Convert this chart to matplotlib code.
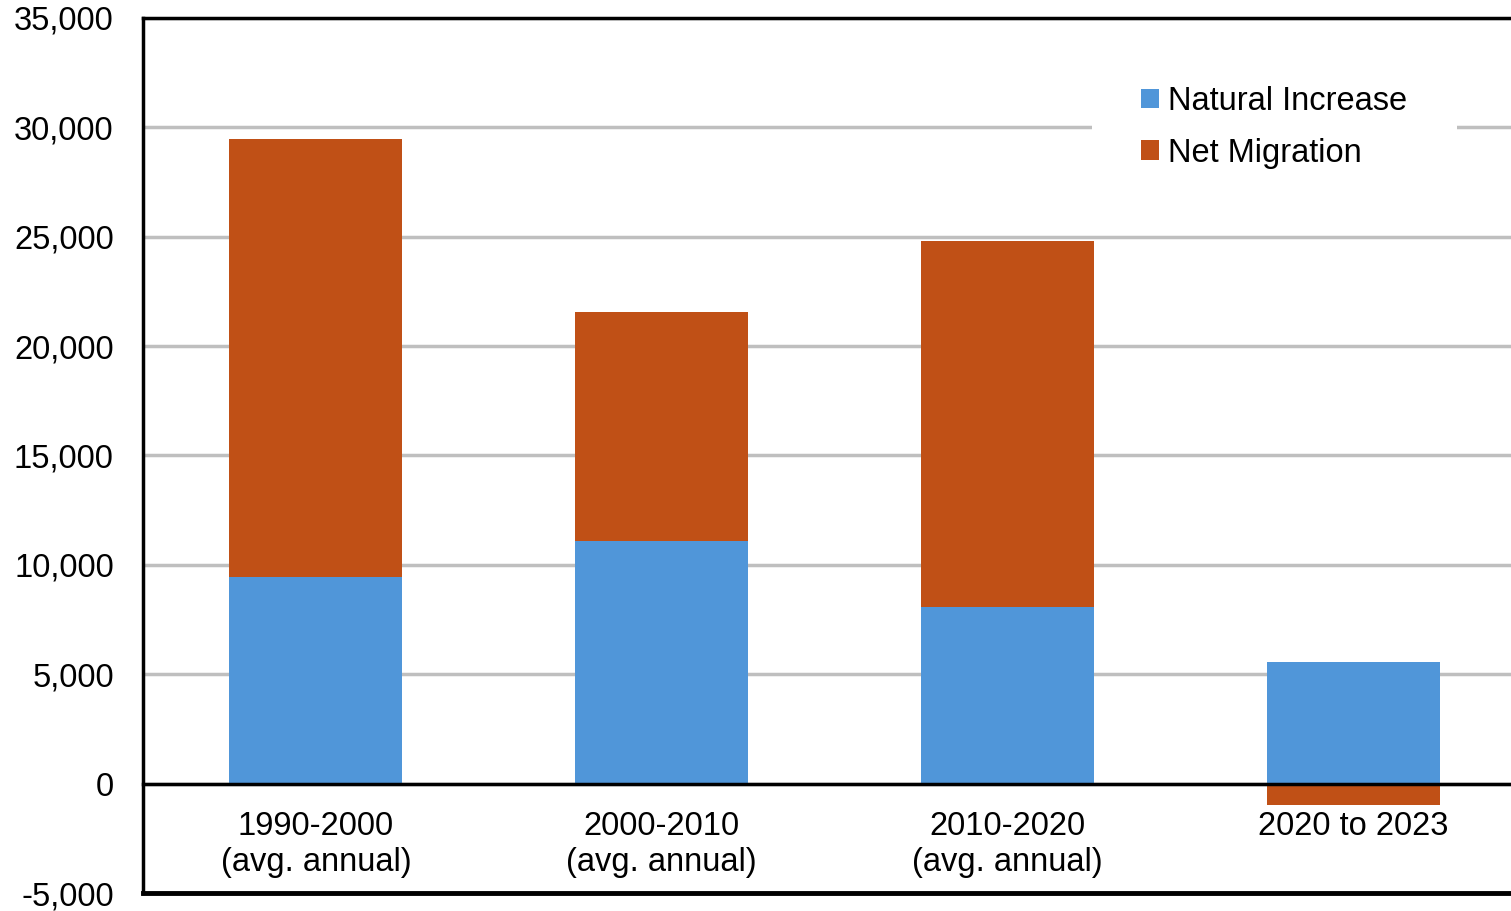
import numpy as np
import matplotlib.pyplot as plt
from matplotlib.ticker import FuncFormatter

plt.rcParams['font.family'] = ['Liberation Sans', 'DejaVu Sans']

# data
periods = ['1990-2000\n(avg. annual)', '2000-2010\n(avg. annual)',
           '2010-2020\n(avg. annual)', '2020 to 2023']
natural_increase = [9450, 11100, 8070, 5560]
net_migration = [20010, 10460, 16730, -980]

blue = '#5096D9'
orange = '#C05016'

fig = plt.figure(figsize=(15.11, 9.11), dpi=100)
ax = fig.add_axes([143 / 1511, 18 / 911, 1383 / 1511, 875 / 911])

x = np.arange(len(periods))
ax.bar(x, natural_increase, width=0.5, color=blue, label='Natural Increase', zorder=3)
# negative migration hangs below zero, positive sits on top of the blue bar
bottoms = [n if m > 0 else 0 for n, m in zip(natural_increase, net_migration)]
ax.bar(x, net_migration, width=0.5, bottom=bottoms, color=orange,
       label='Net Migration', zorder=3)

ax.set_xlim(-0.5, 3.5)
ax.set_ylim(-5000, 35000)
ax.set_yticks(np.arange(-5000, 35001, 5000))
ax.yaxis.set_major_formatter(FuncFormatter(lambda v, p: f'{int(v):,}'))
ax.grid(axis='y', color='#BFBFBF', linewidth=2.5, zorder=0)

ax.set_xticks(x)
ax.set_xticklabels(periods, linespacing=1.2)
ax.tick_params(axis='both', length=0, labelsize=23.5)
ax.tick_params(axis='y', pad=21)
ax.tick_params(axis='x', pad=19.5)

# category axis sits on zero, frame line kept at the bottom
ax.spines['bottom'].set_position(('data', 0))
ax.spines['right'].set_visible(False)
for s in ['bottom', 'top', 'left']:
    ax.spines[s].set_linewidth(2.5)
    ax.spines[s].set_color('black')
    ax.spines[s].set_zorder(4)
ax.axhline(-5000, color='black', linewidth=3.5, clip_on=False, zorder=4)

leg = ax.legend(loc='upper left', bbox_to_anchor=(0.686, 0.978), fontsize=23.5,
                frameon=True, fancybox=False, handlelength=0.55, handleheight=0.55,
                handletextpad=0.3, labelspacing=0.63, borderpad=1.5,
                borderaxespad=0)
leg.get_frame().set_facecolor('white')
leg.get_frame().set_edgecolor('none')
leg.get_frame().set_alpha(1)
leg.set_zorder(5)

fig.savefig('out.png', dpi=100)
